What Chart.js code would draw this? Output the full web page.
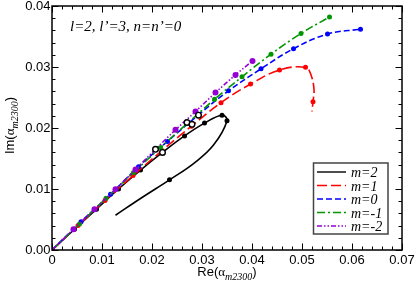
<!DOCTYPE html>
<html><head><meta charset="utf-8">
<script src="https://cdn.jsdelivr.net/npm/chart.js@4.4.1/dist/chart.umd.min.js"></script>
<style>html,body{margin:0;padding:0;background:#fff}canvas{display:block}</style>
</head><body>
<canvas id="c" width="415" height="284" style="width:415px;height:284px"></canvas>
<script>
// ---------------- data ----------------
const seriesNames = ["m=2", "m=1", "m=0", "m=-1", "m=-2"];

const m2X = [0, 0.0045, 0.0089, 0.0133, 0.0177, 0.0221, 0.0265, 0.0305, 0.0340, 0.0350, 0.0323, 0.0285, 0.0235, 0.0180, 0.0127];
const m2Y = [0, 0.0034, 0.0067, 0.0100, 0.0131, 0.0160, 0.0187, 0.0208, 0.0221, 0.0212, 0.0172, 0.0143, 0.0115, 0.0086, 0.0057];

const m1X = [0, 0.0052, 0.0106, 0.0162, 0.0220, 0.0279, 0.0338, 0.0397, 0.0455, 0.0507, 0.0518, 0.0524, 0.0522, 0.0520];
const m1Y = [0, 0.0040, 0.0081, 0.0122, 0.0163, 0.0203, 0.02415, 0.0272, 0.0295, 0.02995, 0.0287, 0.0263, 0.0243, 0.0227];

const m0X = [0, 0.0058, 0.0117, 0.0173, 0.0231, 0.0292, 0.0353, 0.0418, 0.0483, 0.0551, 0.0617];
const m0Y = [0, 0.00464, 0.00913, 0.01366, 0.0178, 0.0221, 0.0261, 0.0297, 0.0330, 0.0354, 0.0362];

const mm1X = [0, 0.0055, 0.0108, 0.0163, 0.0217, 0.0271, 0.0325, 0.0380, 0.0438, 0.0498, 0.0555];
const mm1Y = [0, 0.00426, 0.00847, 0.0127, 0.0168, 0.0208, 0.0247, 0.0284, 0.0321, 0.0355, 0.0382];

const mm2X = [0, 0.0043, 0.0085, 0.0127, 0.0167, 0.0207, 0.0247, 0.0287, 0.0327, 0.0367, 0.0401];
const mm2Y = [0, 0.0034, 0.0067, 0.00995, 0.0132, 0.0165, 0.0197, 0.0227, 0.0258, 0.0287, 0.0310];

const openX = [0.0207, 0.0221, 0.0270, 0.0280, 0.0293];
const openY = [0.0165, 0.0160, 0.0209, 0.0206, 0.0221];

const xTickValues = [0, 0.01, 0.02, 0.03, 0.04, 0.05, 0.06, 0.07];
const xTickLabels = ["0", "0.01", "0.02", "0.03", "0.04", "0.05", "0.06", "0.07"];
const yTickValues = [0, 0.01, 0.02, 0.03, 0.04];
const yTickLabels = ["0.00", "0.01", "0.02", "0.03", "0.04"];

const annotationText = "l=2, l\u2019=3, n=n\u2019=0";
const axisBase = "\u03b1";
const axisSub = "m2300";
const xTitlePrefix = "Re(";
const yTitlePrefix = "Im(";

// ---------------- styles ----------------
const seriesX = [m2X, m1X, m0X, mm1X, mm2X];
const seriesY = [m2Y, m1Y, m0Y, mm1Y, mm2Y];
const styles = [
  {color: "#000000", dash: [], marked: [1,2,3,4,5,6,7,8,9,12], r: 2.5, order: 4},
  {color: "#ff0000", dash: [10, 4], marked: [1,2,3,4,5,6,7,8,9,12], r: 2.5, order: 3},
  {color: "#0000ff", dash: [6, 3], marked: [1,2,3,4,5,6,7,8,9,10], r: 2.5, order: 2},
  {color: "#009600", dash: [8, 3, 2, 3], marked: [1,2,3,4,5,6,7,8,9,10], r: 2.5, order: 1},
  {color: "#9400d3", dash: [5, 2, 1.5, 2, 1.5, 2], marked: [0,1,2,3,4,5,6,7,8,9,10], r: 3, order: 0}
];
const tickFont = '13px "Liberation Sans"';

function pts(xs, ys) { return xs.map((x, i) => ({x: x, y: ys[i]})); }

const datasets = seriesNames.map((name, s) => {
  const st = styles[s];
  const xs = seriesX[s];
  return {
    label: name,
    data: pts(xs, seriesY[s]),
    showLine: true,
    borderColor: st.color,
    backgroundColor: st.color,
    borderWidth: 1.6,
    borderDash: st.dash,
    tension: 0.4,
    pointRadius: xs.map((_, i) => st.marked.includes(i) ? st.r : 0),
    pointBackgroundColor: st.color,
    pointBorderWidth: 0,
    order: st.order
  };
});
datasets.push({
  label: "open",
  data: pts(openX, openY),
  showLine: false,
  pointRadius: 2.8,
  pointBorderWidth: 1.4,
  pointBorderColor: "#000",
  pointBackgroundColor: "#fff",
  order: -1
});

function drawTitle(ctx, prefix, cx, cy, rotate) {
  ctx.save();
  ctx.translate(cx, cy);
  if (rotate) ctx.rotate(-Math.PI / 2);
  const mainFont = '13px "Liberation Sans"';
  const greekFont = '13px "Liberation Serif"';
  const subFont = 'italic 10px "Liberation Serif"';
  ctx.font = mainFont; const w1 = ctx.measureText(prefix).width;
  ctx.font = greekFont; const w2 = ctx.measureText(axisBase).width;
  ctx.font = subFont; const w3 = ctx.measureText(axisSub).width;
  ctx.font = mainFont; const w4 = ctx.measureText(")").width;
  let x = -(w1 + w2 + w3 + w4) / 2;
  ctx.fillStyle = "#000";
  ctx.textBaseline = "alphabetic";
  ctx.textAlign = "left";
  ctx.font = mainFont; ctx.fillText(prefix, x, 0); x += w1;
  ctx.font = greekFont; ctx.fillText(axisBase, x, 0); x += w2;
  ctx.font = subFont; ctx.fillText(axisSub, x, 3.5); x += w3;
  ctx.font = mainFont; ctx.fillText(")", x, 0);
  ctx.restore();
}

const deco = {
  id: "deco",
  afterDraw(chart) {
    const ctx = chart.ctx, a = chart.chartArea, xs = chart.scales.x, ys = chart.scales.y;
    ctx.save();
    ctx.strokeStyle = "#000";
    ctx.lineWidth = 1;
    ctx.setLineDash([]);
    ctx.beginPath();
    for (let k = 0; k <= 35; k++) {
      const px = Math.round(xs.getPixelForValue(k * 0.002)) + 0.5;
      const L = k % 5 === 0 ? 6.5 : 3.5;
      ctx.moveTo(px, a.bottom); ctx.lineTo(px, a.bottom - L);
      ctx.moveTo(px, a.top); ctx.lineTo(px, a.top + L);
    }
    for (let k = 0; k <= 20; k++) {
      const py = Math.round(ys.getPixelForValue(k * 0.002)) + 0.5;
      const L = k % 5 === 0 ? 6.5 : 3.5;
      ctx.moveTo(a.left, py); ctx.lineTo(a.left + L, py);
      ctx.moveTo(a.right, py); ctx.lineTo(a.right - L, py);
    }
    ctx.stroke();
    ctx.lineWidth = 1.5;
    ctx.strokeRect(a.left, a.top, a.right - a.left, a.bottom - a.top);

    // tick labels
    ctx.fillStyle = "#000";
    ctx.font = tickFont;
    ctx.textAlign = "center";
    ctx.textBaseline = "middle";
    xTickValues.forEach((v, i) => ctx.fillText(xTickLabels[i], xs.getPixelForValue(v), a.bottom + 10));
    ctx.textAlign = "right";
    yTickValues.forEach((v, i) => ctx.fillText(yTickLabels[i], a.left - 1.5, ys.getPixelForValue(v) + 0.5));

    // annotation
    ctx.font = 'italic 15px "Liberation Serif"';
    ctx.textAlign = "left";
    ctx.textBaseline = "alphabetic";
    ctx.fillText(annotationText, 70, 30.5);

    // axis titles
    drawTitle(ctx, xTitlePrefix, (a.left + a.right) / 2, 276, false);
    drawTitle(ctx, yTitlePrefix, 14, 125.5, true);

    // legend
    const bx = 313.5, by = 163, bw = 74.5, bh = 71;
    ctx.fillStyle = "#fff";
    ctx.fillRect(bx, by, bw, bh);
    ctx.strokeStyle = "#444";
    ctx.lineWidth = 1.5;
    ctx.strokeRect(bx, by, bw, bh);
    ctx.font = 'italic 14px "Liberation Serif"';
    seriesNames.forEach((name, s) => {
      const yy = 172 + s * 13.5;
      ctx.strokeStyle = styles[s].color;
      ctx.lineWidth = 1.4;
      ctx.setLineDash(styles[s].dash);
      ctx.beginPath(); ctx.moveTo(317, yy); ctx.lineTo(346, yy); ctx.stroke();
      ctx.setLineDash([]);
      ctx.fillStyle = "#000";
      ctx.fillText(name, 351, yy + 5);
    });
    ctx.restore();
  }
};

new Chart(document.getElementById("c"), {
  type: "scatter",
  data: {datasets: datasets},
  options: {
    responsive: false,
    devicePixelRatio: 1,
    animation: false,
    layout: {padding: {left: 0, right: 13, top: 6, bottom: 0}},
    plugins: {legend: {display: false}, tooltip: {enabled: false}},
    scales: {
      x: {
        type: "linear", min: 0, max: 0.07,
        afterBuildTicks: s => { s.ticks = xTickValues.map(v => ({value: v})); },
        afterFit: s => { s.height = 34; },
        ticks: {display: false},
        grid: {display: false},
        border: {display: false}
      },
      y: {
        type: "linear", min: 0, max: 0.04,
        afterBuildTicks: s => { s.ticks = yTickValues.map(v => ({value: v})); },
        afterFit: s => { s.width = 52; },
        ticks: {display: false},
        grid: {display: false},
        border: {display: false}
      }
    }
  },
  plugins: [deco]
});
</script>
</body></html>
